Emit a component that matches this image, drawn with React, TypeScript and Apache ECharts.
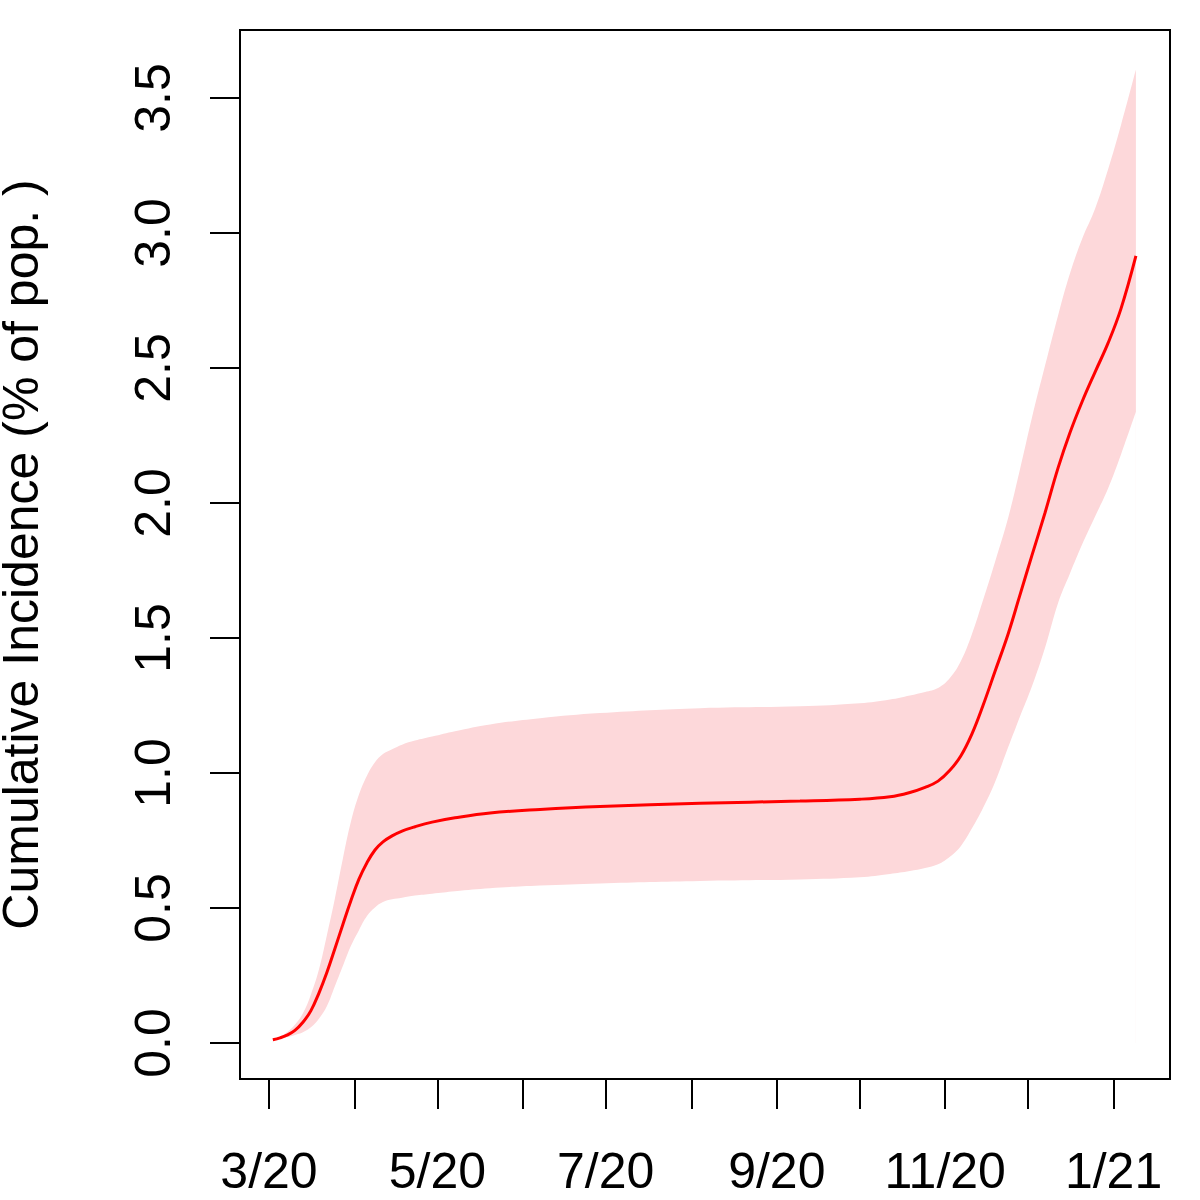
import React, { useEffect, useRef } from "react";
import * as echarts from "echarts";

// x = days since 2020-03-01
const days = [1.4, 4.0, 6.5, 9.4, 12.3, 15.2, 18.1, 21.0, 23.9, 26.8, 29.7, 32.6, 35.5, 38.4, 41.3, 44.6, 48.2, 52.9, 59.1, 67.4, 80.1, 98.2, 119.9, 156.2, 192.4, 214.1, 225.0, 232.2, 237.7, 242.4, 246.7, 250.7, 254.7, 258.7, 263.0, 267.8, 272.1, 276.4, 281.2, 285.9, 290.2, 294.6, 299.3, 304.0, 308.7, 314.1];
const mid = [0.012, 0.019, 0.029, 0.047, 0.077, 0.12, 0.185, 0.262, 0.35, 0.44, 0.528, 0.607, 0.668, 0.715, 0.745, 0.767, 0.785, 0.801, 0.818, 0.834, 0.852, 0.865, 0.876, 0.888, 0.896, 0.903, 0.912, 0.928, 0.947, 0.97, 1.01, 1.064, 1.145, 1.25, 1.375, 1.515, 1.66, 1.805, 1.965, 2.13, 2.26, 2.375, 2.485, 2.592, 2.72, 2.915];
const upper = [0.014, 0.024, 0.04, 0.068, 0.11, 0.18, 0.272, 0.4, 0.536, 0.684, 0.82, 0.92, 0.99, 1.04, 1.07, 1.088, 1.105, 1.12, 1.135, 1.155, 1.18, 1.203, 1.222, 1.24, 1.247, 1.258, 1.272, 1.287, 1.3, 1.315, 1.352, 1.415, 1.515, 1.64, 1.78, 1.945, 2.125, 2.315, 2.51, 2.695, 2.85, 2.978, 3.09, 3.235, 3.4, 3.606];
const lower = [0.012, 0.016, 0.021, 0.03, 0.04, 0.058, 0.09, 0.137, 0.211, 0.286, 0.36, 0.418, 0.47, 0.502, 0.522, 0.532, 0.538, 0.546, 0.553, 0.562, 0.573, 0.583, 0.591, 0.6, 0.606, 0.614, 0.626, 0.637, 0.648, 0.662, 0.69, 0.73, 0.795, 0.87, 0.965, 1.095, 1.209, 1.32, 1.465, 1.63, 1.739, 1.846, 1.95, 2.054, 2.18, 2.338];

const monthTickDays = [0, 31, 61, 92, 122, 153, 184, 214, 245, 275, 306];
const labelDays = [0, 61, 122, 184, 245, 306];
const labelTexts = ["3/20", "5/20", "7/20", "9/20", "11/20", "1/21"];
const yTicks = [0, 0.5, 1.0, 1.5, 2.0, 2.5, 3.0, 3.5];

const FONT = "'Liberation Sans', Arial, Helvetica, sans-serif";
const SMOOTH = 0.4;

export default function App() {
  const ref = useRef<HTMLDivElement>(null);
  useEffect(() => {
    if (!ref.current) return;
    const chart = echarts.init(ref.current, undefined, { renderer: "svg" });
    const lowerData = days.map((d, i) => [d, lower[i]]);
    const upperData = days.map((d, i) => [d, upper[i]]);
    const midData = days.map((d, i) => [d, mid[i]]);
    chart.setOption({
      animation: false,
      backgroundColor: "#ffffff",
      grid: {
        left: 240,
        right: 30,
        top: 30,
        bottom: 121,
        show: true,
        borderColor: "#000",
        borderWidth: 2,
        backgroundColor: "transparent",
        containLabel: false,
        outerBoundsMode: "none",
        z: 10,
      },
      xAxis: {
        type: "value",
        min: -10.5,
        max: 326.45,
        axisLine: { show: false, onZero: false },
        splitLine: { show: false },
        axisTick: {
          show: true,
          inside: false,
          length: 30,
          customValues: monthTickDays,
          lineStyle: { color: "#000", width: 2 },
        },
        axisLabel: {
          show: true,
          customValues: labelDays,
          margin: 67,
          fontSize: 50,
          fontFamily: FONT,
          color: "#000",
          formatter: (v: number) => {
            const idx = labelDays.indexOf(Math.round(v));
            return idx >= 0 ? labelTexts[idx] : "";
          },
        },
      },
      yAxis: {
        type: "value",
        min: -0.1333,
        max: 3.752,
        name: "Cumulative Incidence (% of pop. )",
        nameLocation: "middle",
        nameGap: 199,
        nameTextStyle: { fontSize: 50, lineHeight: 40, fontFamily: FONT, color: "#000" },
        axisLine: { show: false, onZero: false },
        splitLine: { show: false },
        axisTick: {
          show: true,
          inside: false,
          length: 30,
          customValues: yTicks,
          lineStyle: { color: "#000", width: 2 },
        },
        axisLabel: {
          show: true,
          customValues: yTicks,
          rotate: 90,
          margin: 62,
          fontSize: 50,
          fontFamily: FONT,
          color: "#000",
          formatter: (v: number) => v.toFixed(1),
        },
      },
      series: [
        {
          type: "line",
          data: upperData,
          symbol: "none",
          smooth: SMOOTH,
          lineStyle: { width: 0, opacity: 0 },
          areaStyle: { color: "#FDD8DA", opacity: 1, origin: 0 },
          silent: true,
        },
        {
          type: "line",
          data: lowerData,
          symbol: "none",
          smooth: SMOOTH,
          lineStyle: { width: 0, opacity: 0 },
          areaStyle: { color: "#FFFFFF", opacity: 1, origin: 0 },
          silent: true,
        },
        {
          type: "line",
          data: midData,
          symbol: "none",
          smooth: SMOOTH,
          lineStyle: { color: "#FF0000", width: 3 },
          silent: true,
        },
      ],
    });
    return () => chart.dispose();
  }, []);
  return (
    <div
      ref={ref}
      style={{ position: "absolute", left: 0, top: 0, width: 1200, height: 1200 }}
    />
  );
}
